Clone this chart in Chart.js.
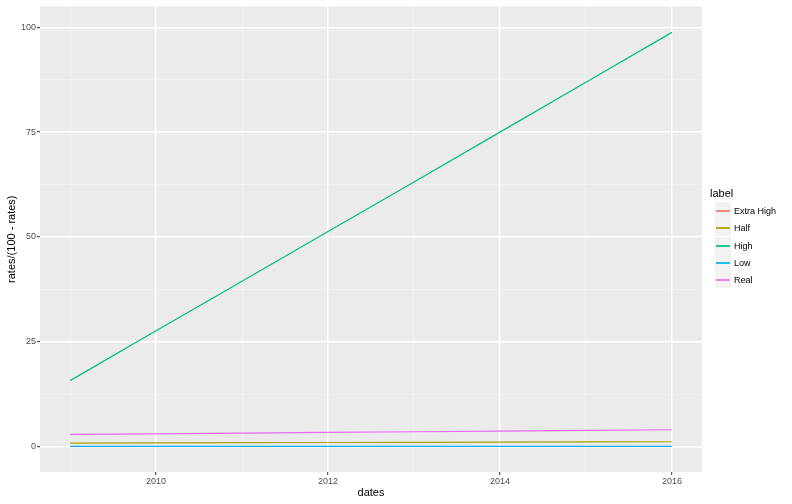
<!DOCTYPE html>
<html>
<head>
<meta charset="utf-8">
<script src="https://cdn.jsdelivr.net/npm/chart.js@4/dist/chart.umd.min.js"></script>
<style>
  html, body { margin: 0; padding: 0; background: #fff; }
  #wrap { position: relative; width: 792px; height: 504px; }
  #legend { position: absolute; left: 0; top: 0; width: 792px; height: 504px; font-family: "Liberation Sans", Arial, sans-serif; pointer-events: none; }
  #legend .title { position: absolute; left: 710px; top: 185px; font-size: 11px; color: #000; height: 17px; line-height: 17px; }
  #legend .key { position: absolute; left: 715px; width: 16px; height: 17px; background: #F2F2F2; }
  #legend .key span { position: absolute; left: 1px; right: 1px; top: 8px; height: 2px; opacity: 0.85; }
  #legend .lab { position: absolute; left: 734px; height: 17px; line-height: 18px; font-size: 9px; color: #000; white-space: nowrap; }
</style>
</head>
<body>
<div id="wrap">
  <canvas id="c" width="792" height="504"></canvas>
  <div id="legend"></div>
</div>
<script>
const years = [2009, 2010, 2011, 2012, 2013, 2014, 2015, 2016];
const labels = ["Extra High", "Half", "High", "Low", "Real"];
const extraHigh = [null, null, null, null, null, null, null, null];
const half = [0.79, 0.84, 0.89, 0.94, 0.98, 1.03, 1.08, 1.12];
const high = [15.7, 27.6, 39.4, 51.3, 63.1, 75.0, 86.9, 98.8];
const low = [0.02, 0.02, 0.02, 0.02, 0.02, 0.02, 0.02, 0.02];
const real = [2.86, 3.02, 3.18, 3.34, 3.50, 3.66, 3.82, 3.98];
const colors = ["#F8766D", "#A3A500", "#00BF7D", "#00B0F6", "#E76BF3"];
const xTicks = [2009, 2010, 2011, 2012, 2013, 2014, 2015, 2016];
const xTickLabels = ["2010", "2012", "2014", "2016"];
const yTicks = [0, 12.5, 25, 37.5, 50, 62.5, 75, 87.5, 100];
const yTickLabels = ["0", "25", "50", "75", "100"];

const seriesValues = [extraHigh, half, high, low, real];

const datasets = labels.map((lab, i) => ({
  label: lab,
  data: years.map((y, j) => ({ x: y, y: seriesValues[i][j] })),
  borderColor: colors[i],
  backgroundColor: colors[i],
  borderWidth: 1.2,
  pointRadius: 0,
  fill: false,
  tension: 0,
  order: labels.length - i
}));

const isMajorX = v => xTickLabels.includes(String(v));
const isMajorY = v => yTickLabels.includes(String(v));

const panelBg = {
  id: 'panelBg',
  beforeDraw(chart) {
    const a = chart.chartArea;
    const ctx = chart.ctx;
    ctx.save();
    ctx.fillStyle = '#EBEBEB';
    ctx.fillRect(a.left, a.top, a.right - a.left, a.bottom - a.top);
    ctx.restore();
  }
};

const font = "'Liberation Sans', Arial, sans-serif";

new Chart(document.getElementById('c'), {
  type: 'line',
  data: { datasets },
  plugins: [panelBg],
  options: {
    responsive: false,
    animation: false,
    layout: { padding: { left: 0, right: 90, top: 5, bottom: 0 } },
    plugins: { legend: { display: false }, tooltip: { enabled: false } },
    scales: {
      x: {
        type: 'linear',
        min: 2008.65,
        max: 2016.35,
        afterBuildTicks: s => { s.ticks = xTicks.map(v => ({ value: v })); },
        afterFit: s => { s.height = 32; },
        border: { display: false },
        grid: {
          color: c => isMajorX(c.tick && c.tick.value) ? '#FFFFFF' : '#F4F4F4',
          lineWidth: c => isMajorX(c.tick && c.tick.value) ? 1.4 : 0.7,
          tickColor: c => isMajorX(c.tick && c.tick.value) ? '#333333' : 'rgba(0,0,0,0)',
          tickLength: 3,
          tickWidth: 1
        },
        ticks: {
          autoSkip: false,
          maxRotation: 0,
          padding: 1,
          color: '#4D4D4D',
          font: { family: font, size: 9 },
          callback: v => isMajorX(v) ? String(v) : ''
        },
        title: {
          display: true,
          text: 'dates',
          color: '#000',
          font: { family: font, size: 11 },
          padding: { top: 0, bottom: 4 }
        }
      },
      y: {
        type: 'linear',
        min: -6.1,
        max: 105,
        afterBuildTicks: s => { s.ticks = yTicks.map(v => ({ value: v })); },
        afterFit: s => { s.width = 40; },
        border: { display: false },
        grid: {
          color: c => isMajorY(c.tick && c.tick.value) ? '#FFFFFF' : '#F4F4F4',
          lineWidth: c => isMajorY(c.tick && c.tick.value) ? 1.4 : 0.7,
          tickColor: c => isMajorY(c.tick && c.tick.value) ? '#333333' : 'rgba(0,0,0,0)',
          tickLength: 3,
          tickWidth: 1
        },
        ticks: {
          autoSkip: false,
          padding: 1,
          color: '#4D4D4D',
          font: { family: font, size: 9 },
          callback: v => isMajorY(v) ? String(v) : ''
        },
        title: {
          display: true,
          text: 'rates/(100 - rates)',
          color: '#000',
          font: { family: font, size: 11 },
          padding: { top: 5, bottom: 0 }
        }
      }
    }
  }
});

const keyTops = [202, 219, 237, 254, 271];
const leg = document.getElementById('legend');
const t = document.createElement('div');
t.className = 'title';
t.textContent = 'label';
leg.appendChild(t);
labels.forEach((lab, i) => {
  const k = document.createElement('div');
  k.className = 'key';
  k.style.top = keyTops[i] + 'px';
  const sp = document.createElement('span');
  sp.style.backgroundColor = colors[i];
  k.appendChild(sp);
  leg.appendChild(k);
  const l = document.createElement('div');
  l.className = 'lab';
  l.style.top = keyTops[i] + 'px';
  l.textContent = lab;
  leg.appendChild(l);
});
</script>
</body>
</html>
